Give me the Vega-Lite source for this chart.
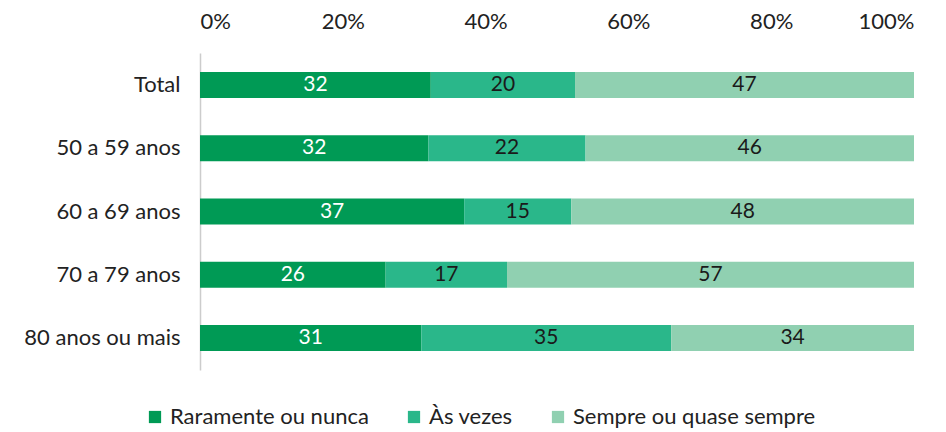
{
  "$schema": "https://vega.github.io/schema/vega-lite/v6.json",
  "width": 714,
  "height": 317,
  "autosize": {"type": "none"},
  "padding": {"left": 200, "top": 53, "right": 32, "bottom": 62},
  "background": "white",
  "config": {
    "font": "Lato",
    "view": {"stroke": null}
  },
  "data": {
    "values": [
      {"group": "Total", "cat": "Raramente ou nunca", "order": 1, "value": 32},
      {"group": "Total", "cat": "Às vezes", "order": 2, "value": 20},
      {"group": "Total", "cat": "Sempre ou quase sempre", "order": 3, "value": 47},
      {"group": "50 a 59 anos", "cat": "Raramente ou nunca", "order": 1, "value": 32},
      {"group": "50 a 59 anos", "cat": "Às vezes", "order": 2, "value": 22},
      {"group": "50 a 59 anos", "cat": "Sempre ou quase sempre", "order": 3, "value": 46},
      {"group": "60 a 69 anos", "cat": "Raramente ou nunca", "order": 1, "value": 37},
      {"group": "60 a 69 anos", "cat": "Às vezes", "order": 2, "value": 15},
      {"group": "60 a 69 anos", "cat": "Sempre ou quase sempre", "order": 3, "value": 48},
      {"group": "70 a 79 anos", "cat": "Raramente ou nunca", "order": 1, "value": 26},
      {"group": "70 a 79 anos", "cat": "Às vezes", "order": 2, "value": 17},
      {"group": "70 a 79 anos", "cat": "Sempre ou quase sempre", "order": 3, "value": 57},
      {"group": "80 anos ou mais", "cat": "Raramente ou nunca", "order": 1, "value": 31},
      {"group": "80 anos ou mais", "cat": "Às vezes", "order": 2, "value": 35},
      {"group": "80 anos ou mais", "cat": "Sempre ou quase sempre", "order": 3, "value": 34}
    ]
  },
  "transform": [
    {"stack": "value", "groupby": ["group"], "sort": [{"field": "order", "order": "ascending"}], "offset": "normalize", "as": ["x0", "x1"]},
    {"calculate": "(datum.x0 + datum.x1) / 2", "as": "mid"}
  ],
  "encoding": {
    "y": {
      "field": "group",
      "type": "nominal",
      "sort": ["Total", "50 a 59 anos", "60 a 69 anos", "70 a 79 anos", "80 anos ou mais"],
      "scale": {"paddingInner": 0.59, "paddingOuter": 0.3},
      "axis": {
        "title": null,
        "ticks": false,
        "domain": true,
        "domainColor": "#cccccc",
        "domainWidth": 1.5,
        "labelFontSize": 22,
        "labelColor": "#222222",
        "labelPadding": 20,
        "labelLimit": 250
      }
    }
  },
  "layer": [
    {
      "mark": {"type": "bar"},
      "encoding": {
        "x": {
          "field": "x0",
          "type": "quantitative",
          "scale": {"domain": [0, 1]},
          "axis": {
            "orient": "top",
            "title": null,
            "format": "%",
            "values": [0, 0.2, 0.4, 0.6, 0.8, 1],
            "grid": false,
            "ticks": false,
            "domain": false,
            "labelFontSize": 22,
            "labelColor": "#222222",
            "labelPadding": 20
          }
        },
        "x2": {"field": "x1"},
        "color": {
          "field": "cat",
          "type": "nominal",
          "sort": ["Raramente ou nunca", "Às vezes", "Sempre ou quase sempre"],
          "scale": {
            "domain": ["Raramente ou nunca", "Às vezes", "Sempre ou quase sempre"],
            "range": ["#009a55", "#2ab78a", "#90d0b1"]
          },
          "legend": {
            "title": null,
            "orient": "none",
            "legendX": -56,
            "legendY": 353,
            "direction": "horizontal",
            "symbolType": "square",
            "symbolSize": 150,
            "symbolStrokeWidth": 0,
            "labelFontSize": 22,
            "labelColor": "#222222",
            "labelLimit": 400,
            "columnPadding": 34,
            "labelOffset": 4
          }
        }
      }
    },
    {
      "mark": {"type": "text", "fontSize": 21, "baseline": "middle", "align": "center"},
      "encoding": {
        "x": {"field": "mid", "type": "quantitative"},
        "text": {"field": "value", "type": "quantitative"},
        "color": {
          "condition": {"test": "datum.cat === 'Raramente ou nunca'", "value": "white"},
          "value": "#1a1a1a"
        }
      }
    }
  ]
}
